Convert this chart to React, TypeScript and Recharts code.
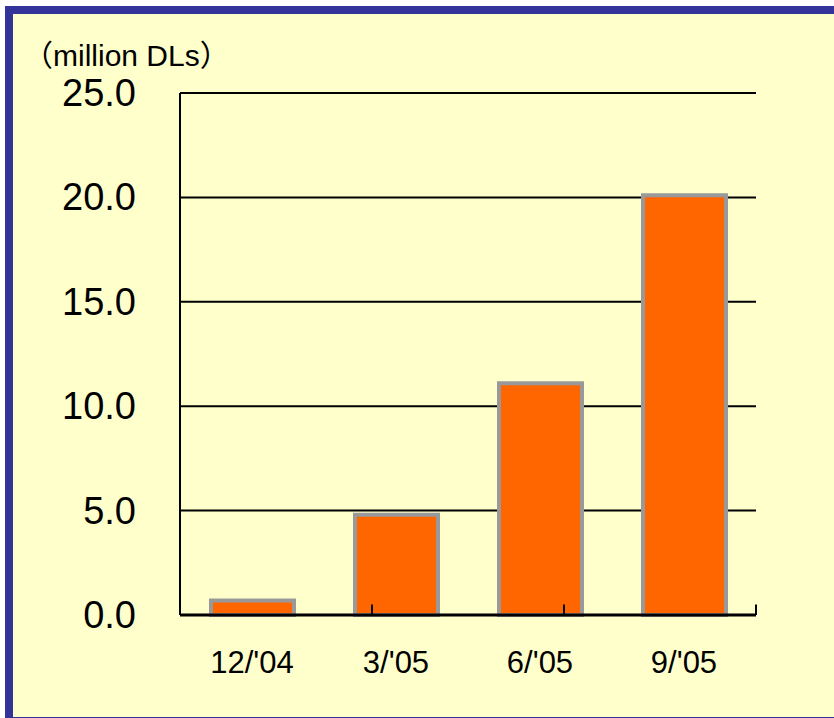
import React from "react";
import { BarChart, Bar, XAxis, YAxis, CartesianGrid, ReferenceLine } from "recharts";

const categories = ["12/'04", "3/'05", "6/'05", "9/'05"];
const downloads = [0.7, 4.8, 11.1, 20.1];
const yTicks = [0, 5, 10, 15, 20, 25];
const boundaryTicks = [1, 2, 3];

const data = categories.map((c, i) => ({ cat: c, value: downloads[i] }));

const FONT = "Arial, 'Liberation Sans', 'Noto Sans CJK JP', sans-serif";
const FRAME = "#333399";

const YTick = (props: any) => {
  const { x, y, payload } = props;
  return (
    <text x={x - 36} y={y} textAnchor="end" dominantBaseline="central" fontFamily={FONT} fontSize={38} fill="#000">
      {Number(payload.value).toFixed(1)}
    </text>
  );
};

const XTick = (props: any) => {
  const { x, y, payload } = props;
  return (
    <text x={x} y={y + 39} textAnchor="middle" dominantBaseline="central" fontFamily={FONT} fontSize={31} fill="#000">
      {payload.value}
    </text>
  );
};

export default function App() {
  return (
    <div style={{ position: "absolute", left: 0, top: 0, width: 834, height: 718, overflow: "hidden", background: "#FFFFCC" }}>
      <div style={{ position: "absolute", left: 0, top: 0, width: 834, height: 6, background: "#fff" }} />
      <div style={{ position: "absolute", left: 0, top: 0, width: 5, height: 718, background: "#fff" }} />
      <div style={{ position: "absolute", left: 5, top: 6, width: 829, height: 8, background: FRAME }} />
      <div style={{ position: "absolute", left: 5, top: 6, width: 8, height: 712, background: FRAME }} />
      <div style={{ position: "absolute", left: 5, top: 717, width: 829, height: 1, background: FRAME }} />
      <div style={{ position: "absolute", left: 0, top: 0 }}>
        <BarChart width={834} height={718} data={data} margin={{ top: 93, right: 78, bottom: 0, left: 0 }}>
          <CartesianGrid vertical={false} stroke="#000" strokeWidth={2} />
          <XAxis
            dataKey="cat"
            type="category"
            axisLine={{ stroke: "#000", strokeWidth: 3 }}
            tickLine={false}
            tick={<XTick />}
            height={103}
            interval={0}
          />
          <XAxis xAxisId="n" type="number" domain={[0, 4]} hide />
          <YAxis
            type="number"
            domain={[0, 25]}
            ticks={yTicks}
            width={180}
            axisLine={{ stroke: "#000", strokeWidth: 2 }}
            tickLine={false}
            tick={<YTick />}
          />
          {boundaryTicks.map((b) => (
            <ReferenceLine
              key={b}
              xAxisId="n"
              segment={[{ x: b, y: 0 }, { x: b, y: 0.5 }]}
              stroke="#000"
              strokeWidth={2}
            />
          ))}
          <ReferenceLine xAxisId="n" x={4} stroke="#000" strokeWidth={2} />
          <Bar dataKey="value" fill="#FF6600" stroke="#999999" strokeWidth={4} barSize={83} isAnimationActive={false} />
        </BarChart>
      </div>
      <div
        style={{
          position: "absolute",
          left: 23,
          top: 38,
          fontFamily: FONT,
          fontSize: 30,
          lineHeight: "36px",
          color: "#000",
          whiteSpace: "nowrap",
        }}
      >
        （million DLs）
      </div>
    </div>
  );
}
